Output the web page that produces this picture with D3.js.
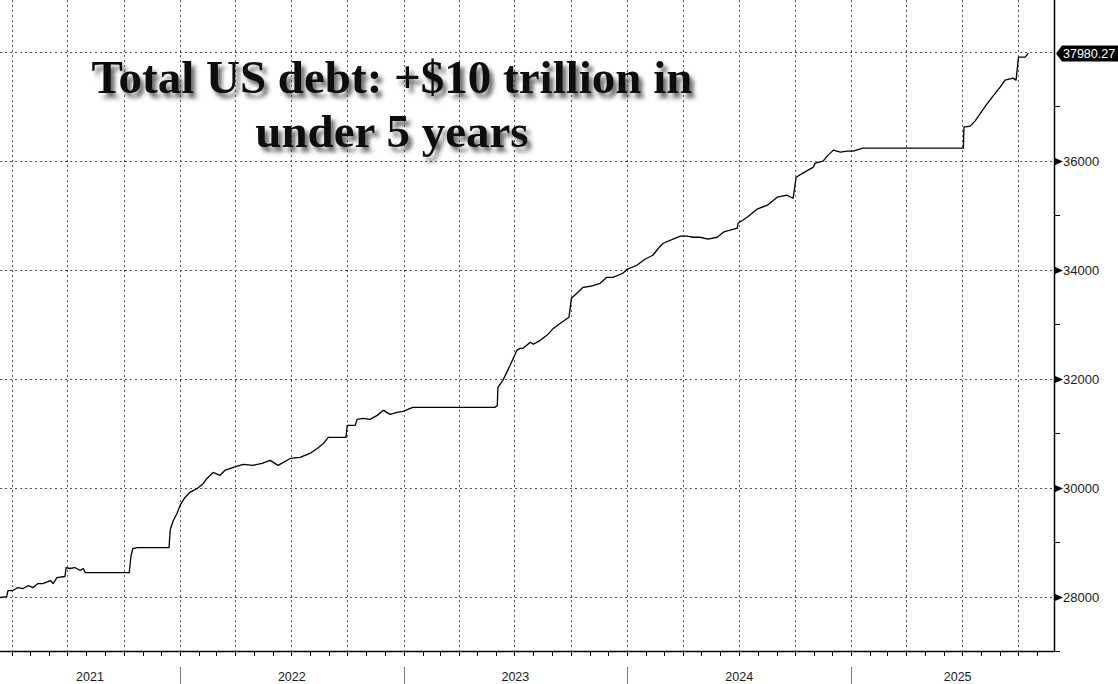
<!DOCTYPE html>
<html><head><meta charset="utf-8">
<script src="https://cdn.jsdelivr.net/npm/d3@7"></script>
<style>body{margin:0;background:#fff}svg{display:block}</style>
</head><body><svg id="c" width="1118" height="684"></svg>
<script>
// Total US public debt, $ billions
const dates = [
"2021-03-13","2021-03-24","2021-03-26","2021-04-03","2021-04-11","2021-04-20","2021-04-28","2021-05-06","2021-05-14","2021-05-22",
"2021-06-03","2021-06-08","2021-06-14","2021-06-27","2021-06-29","2021-07-05","2021-07-13","2021-07-22","2021-07-27","2021-07-30",
"2021-10-10","2021-10-13","2021-10-16","2021-10-23","2021-12-14","2021-12-16","2021-12-21","2021-12-27",
"2022-01-01","2022-01-09","2022-01-17","2022-01-29","2022-02-08","2022-02-14","2022-02-24","2022-03-07","2022-03-15","2022-03-29",
"2022-04-14","2022-04-30","2022-05-15","2022-05-28","2022-06-10","2022-06-30","2022-07-16","2022-08-01","2022-08-13","2022-08-23",
"2022-08-31","2022-09-08","2022-09-29","2022-10-01","2022-10-14","2022-10-17","2022-10-27","2022-11-07","2022-11-19","2022-11-29",
"2022-12-10","2022-12-21","2022-12-31",
"2023-01-16","2023-05-30","2023-06-03","2023-06-04","2023-06-12","2023-06-24","2023-07-05","2023-07-10","2023-07-15","2023-07-27",
"2023-08-01","2023-08-12","2023-08-23","2023-09-01","2023-09-14","2023-09-28","2023-10-02","2023-10-11","2023-10-21","2023-11-02",
"2023-11-18","2023-11-29","2023-12-09","2023-12-25",
"2024-01-01","2024-01-17","2024-01-30","2024-02-12","2024-02-21","2024-02-29","2024-03-16","2024-03-28","2024-04-08","2024-04-18",
"2024-04-29","2024-05-12","2024-05-27","2024-06-06","2024-06-17","2024-06-29","2024-06-30","2024-07-15","2024-07-31","2024-08-17",
"2024-09-02","2024-09-18","2024-09-28","2024-10-03","2024-10-14","2024-10-31","2024-11-03","2024-11-16","2024-11-24","2024-12-03",
"2024-12-14","2024-12-25",
"2025-01-04","2025-01-20","2025-07-03","2025-07-04","2025-07-14","2025-07-22","2025-07-31","2025-08-08","2025-08-19","2025-09-01",
"2025-09-09","2025-09-22","2025-09-27","2025-10-01","2025-10-12","2025-10-17"
];
const values = [
27982,28000,28110,28110,28165,28147,28202,28165,28239,28239,
28294,28239,28349,28368,28533,28515,28533,28478,28515,28441,
28441,28754,28882,28900,28900,29231,29397,29526,
29673,29820,29912,29985,30077,30169,30279,30224,30316,30371,
30426,30408,30445,30500,30408,30536,30555,30628,30720,30812,
30922,30922,30922,31143,31143,31253,31272,31253,31327,31419,
31345,31382,31400,
31474,31474,31510,31841,31970,32246,32521,32558,32558,32669,
32632,32705,32797,32907,33018,33128,33477,33569,33679,33698,
33753,33863,33863,33937,
34010,34084,34194,34268,34396,34488,34562,34617,34617,34598,
34598,34562,34598,34690,34727,34764,34856,34966,35113,35187,
35334,35370,35315,35701,35775,35885,35959,35995,36106,36198,
36161,36179,
36179,36234,36234,36620,36639,36731,36878,37006,37172,37355,
37484,37521,37484,37907,37907,37980.27
];
const yMajorTicks = [28000,30000,32000,34000,36000,38000];
const yLabelTicks = [28000,30000,32000,34000,36000];
const yMinorTicks = [27000,29000,31000,33000,35000,37000];
const yearLabels = ["2021","2022","2023","2024","2025"];
const titleLines = ["Total US debt: +$10 trillion in","under 5 years"];
const lastLabel = "37980.27";

const svg = d3.select("#c");
const W = 1118, H = 684;
const plotR = 1054, plotB = 651;

const parse = d3.utcParse("%Y-%m-%d");
const data = dates.map((d,i)=>({date:parse(d), v:values[i]}));

const x = d3.scaleUtc().domain([parse("2021-03-13"), parse("2025-11-28")]).range([0, plotR]);
const y = d3.scaleLinear().domain([27000, 38000]).range([plotB, 52]);

const defs = svg.append("defs");
const f = defs.append("filter").attr("id","sh").attr("x","-10%").attr("y","-30%").attr("width","130%").attr("height","180%");
f.append("feDropShadow").attr("dx",4).attr("dy",5).attr("stdDeviation",2.2)
  .attr("flood-color","#3a3a3a").attr("flood-opacity",0.75);

// gridlines
const grid = svg.append("g").attr("stroke","#555").attr("stroke-width",1).attr("stroke-dasharray","2,3");
grid.selectAll("line.h").data(yMajorTicks).join("line").attr("class","h")
  .attr("x1",0).attr("x2",plotR).attr("y1",d=>Math.round(y(d))+0.5).attr("y2",d=>Math.round(y(d))+0.5);
const quarters = d3.utcMonth.every(3).range(x.domain()[0], x.domain()[1]);
grid.selectAll("line.v").data(quarters).join("line").attr("class","v")
  .attr("y1",0).attr("y2",plotB).attr("x1",d=>Math.round(x(d))+0.5).attr("x2",d=>Math.round(x(d))+0.5);

// title
const tg = svg.append("g").attr("filter","url(#sh)")
  .attr("font-family","'Liberation Serif','Times New Roman',serif").attr("font-weight","bold")
  .attr("font-size",47).attr("fill","#0a0a0a").attr("text-anchor","middle");
tg.selectAll("text").data(titleLines).join("text")
  .attr("x",392).attr("y",(d,i)=>93+i*54).text(d=>d);

// series line
svg.append("path").datum(data)
  .attr("fill","none").attr("stroke","#000").attr("stroke-width",1.3).attr("stroke-linejoin","round")
  .attr("d", d3.line().x(d=>x(d.date)).y(d=>y(d.v)));

// axes lines
svg.append("line").attr("x1",plotR+0.5).attr("x2",plotR+0.5).attr("y1",0).attr("y2",plotB+1)
  .attr("stroke","#000").attr("stroke-width",1.5);
svg.append("line").attr("x1",0).attr("x2",plotR+1).attr("y1",plotB+0.5).attr("y2",plotB+0.5)
  .attr("stroke","#000").attr("stroke-width",1.5);

// month ticks
const months = d3.utcMonth.range(x.domain()[0], x.domain()[1]);
svg.append("g").selectAll("line").data(months).join("line")
  .attr("x1",d=>Math.round(x(d))+0.5).attr("x2",d=>Math.round(x(d))+0.5)
  .attr("y1",plotB+1).attr("y2",plotB+5).attr("stroke","#000").attr("stroke-width",1);

// year separators & labels
const yearStarts = d3.utcYear.range(x.domain()[0], x.domain()[1]);
svg.append("g").selectAll("line").data(yearStarts).join("line")
  .attr("x1",d=>Math.round(x(d))+0.5).attr("x2",d=>Math.round(x(d))+0.5)
  .attr("y1",667).attr("y2",H).attr("stroke","#777").attr("stroke-width",1);
const axisEnd = 1064;
svg.append("g").selectAll("text").data(yearLabels).join("text")
  .attr("x",d=>{
    const s = Math.max(0, x(parse(d+"-01-01")));
    const e = Math.min(axisEnd, x(parse((+d+1)+"-01-01")));
    return (s+e)/2;})
  .attr("y",681).attr("text-anchor","middle")
  .attr("font-family","'Liberation Sans',Arial,sans-serif").attr("font-size",12.5).attr("fill","#1a1a1a")
  .text(d=>d);

// right axis ticks
const ra = svg.append("g");
ra.selectAll("line").data(yMinorTicks).join("line")
  .attr("x1",plotR).attr("x2",plotR+6).attr("y1",d=>Math.round(y(d))+0.5).attr("y2",d=>Math.round(y(d))+0.5)
  .attr("stroke","#000").attr("stroke-width",1);
ra.selectAll("path").data(yLabelTicks).join("path")
  .attr("d",d=>{const yy=Math.round(y(d))+0.5; return `M${plotR+1},${yy-3.5}L${plotR+9},${yy}L${plotR+1},${yy+3.5}Z`;})
  .attr("fill","#000");
ra.selectAll("text").data(yLabelTicks).join("text")
  .attr("x",plotR+9).attr("y",d=>Math.round(y(d))+5)
  .attr("font-family","'Liberation Sans',Arial,sans-serif").attr("font-size",13).attr("fill","#1a1a1a")
  .text(d=>d);

// last value flag
const lastV = values[values.length-1];
const yl = Math.round(y(lastV))+0.5;
svg.append("path")
  .attr("d",`M${plotR+2},${yl}L${plotR+8},${yl-8}L${W},${yl-8}L${W},${yl+8}L${plotR+8},${yl+8}Z`)
  .attr("fill","#000");
svg.append("text").attr("x",plotR+9).attr("y",yl+4.5)
  .attr("font-family","'Liberation Sans',Arial,sans-serif").attr("font-size",12.5).attr("fill","#fff")
  .text(lastLabel);
</script>
</body></html>
